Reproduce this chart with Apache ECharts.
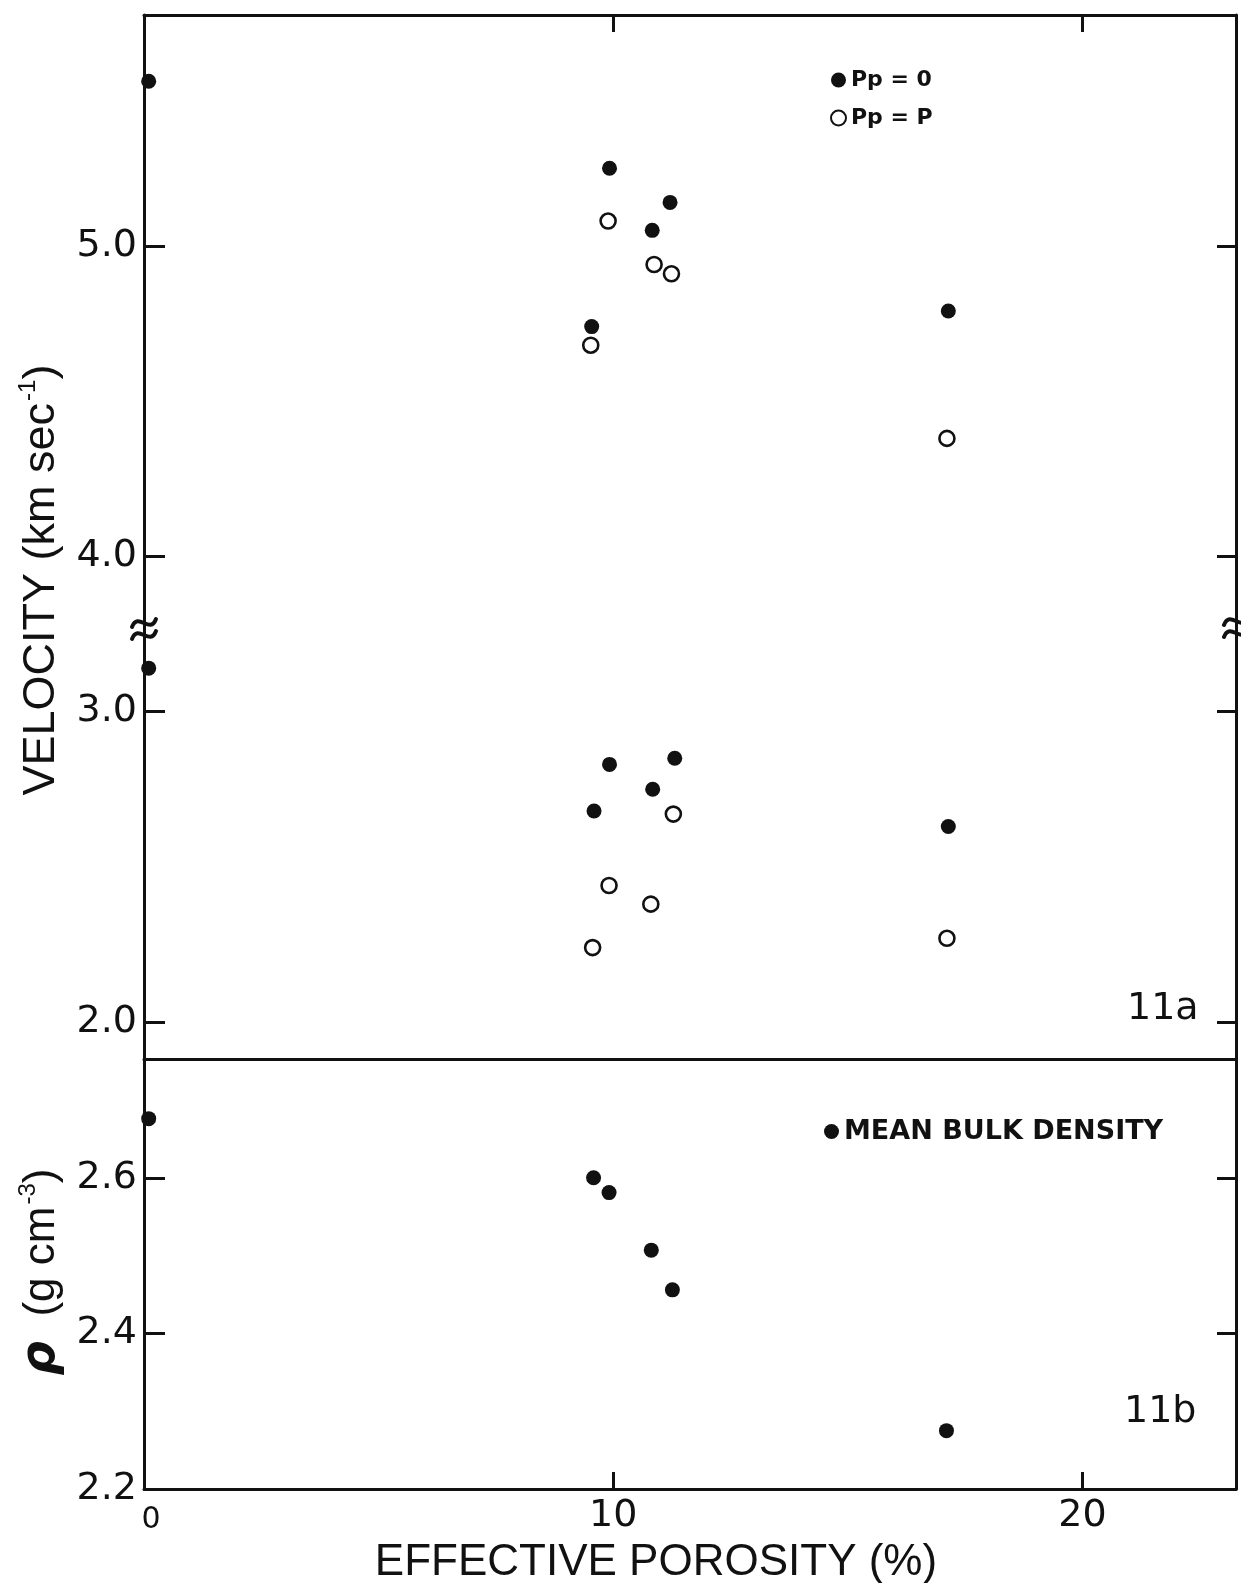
<!DOCTYPE html>
<html><head><meta charset="utf-8">
<script src="https://cdn.jsdelivr.net/npm/echarts@6/dist/echarts.min.js"></script>
<style>html,body{margin:0;padding:0;background:#fff}#c{width:1241px;height:1583px}</style>
</head><body><div id="c"></div>
<script>
// ---------------- data ----------------
const seriesNames = ['Pp = 0', 'Pp = P'];
const rhoName = 'MEAN BULK DENSITY';
// compressional velocity (upper part of 11a)
const vpDryX = [0.1, 9.54, 9.92, 10.83, 11.21, 17.14];
const vpDryY = [5.53, 4.74, 5.25, 5.05, 5.14, 4.79];
const vpSatX = [9.52, 9.89, 10.87, 11.24, 17.11];
const vpSatY = [4.68, 5.08, 4.94, 4.91, 4.38];
// shear velocity (lower part of 11a)
const vsDryX = [0.1, 9.59, 9.92, 10.84, 11.31, 17.14];
const vsDryY = [3.14, 2.68, 2.83, 2.75, 2.85, 2.63];
const vsSatX = [9.56, 9.91, 10.80, 11.28, 17.11];
const vsSatY = [2.24, 2.44, 2.38, 2.67, 2.27];
// mean bulk density (11b)
const rhoX = [0.1, 9.58, 9.91, 10.81, 11.26, 17.10];
const rhoY = [2.676, 2.600, 2.581, 2.507, 2.456, 2.275];
// ticks
const xTickLabels = [0, 10, 20];
const xTickMarks = [10, 20];
const vUpperTicks = [4, 5];
const vLowerTicks = [2, 3];
const rhoTickLabels = [2.2, 2.4, 2.6];
const rhoTickMarks = [2.4, 2.6];

// ---------------- layout ----------------
const L = 144, R = 1236, T = 15, BRK = 634, DIV = 1059, BOT = 1489, W = 1241;
const INK = '#111111';
const NUMFONT = 'DejaVu Sans';
const TXTFONT = 'Liberation Sans';

function pairs(xs, ys) { return xs.map((x, i) => [x, ys[i]]); }

const lineStyle = { color: INK, width: 3 };
function yAx(grid, pos, min, max, ticks, labels) {
  return {
    type: 'value', gridIndex: grid, position: pos, min: min, max: max,
    axisLine: { show: true, onZero: false, lineStyle: lineStyle },
    axisTick: { show: true, inside: true, length: pos === 'left' ? 21 : 19, customValues: ticks, lineStyle: { color: INK, width: 3 } },
    axisLabel: labels ? { show: true, customValues: labels, margin: 7, color: INK, fontFamily: NUMFONT, fontSize: 38,
      formatter: v => Number(v).toFixed(1) } : { show: false },
    splitLine: { show: false }
  };
}
const xMax = 23.27;
function xAx(grid, pos, ticks, labels) {
  return {
    type: 'value', gridIndex: grid, position: pos, min: 0, max: xMax,
    axisLine: { show: true, onZero: false, lineStyle: lineStyle },
    axisTick: ticks ? { show: true, inside: true, length: 17, customValues: ticks, lineStyle: { color: INK, width: 3 } } : { show: false },
    axisLabel: labels ? { show: true, customValues: labels, margin: 8, color: INK,
      formatter: v => v === 0 ? '{z|0}' : '{n|' + v + '}',
      rich: { z: { fontFamily: NUMFONT, fontSize: 30, padding: [8, 0, 0, 14], color: INK },
              n: { fontFamily: NUMFONT, fontSize: 38, color: INK } } } : { show: false },
    splitLine: { show: false }
  };
}

const dotFilled = { color: INK, opacity: 1 };
const dotOpen = { color: '#ffffff', borderColor: INK, borderWidth: 2.6, opacity: 1 };

function breakMark(x, y) {
  const els = [];
  [-6, 6].forEach(dy => {
    els.push({ type: 'bezierCurve', z: 100,
      shape: { x1: x - 12, y1: y + dy + 4, cpx1: x - 6, cpy1: y + dy - 12, cpx2: x + 6, cpy2: y + dy + 12, x2: x + 12, y2: y + dy - 4 },
      style: { stroke: INK, lineWidth: 4, fill: null, lineCap: 'round' } });
  });
  return els;
}

const option = {
  backgroundColor: '#ffffff',
  animation: false,
  grid: [
    { left: L, right: W - R, top: T, height: BRK - T },
    { left: L, right: W - R, top: BRK, height: DIV - BRK },
    { left: L, right: W - R, top: DIV, height: BOT - DIV }
  ],
  xAxis: [
    xAx(0, 'top', xTickMarks, null),
    xAx(1, 'bottom', null, null),
    xAx(2, 'bottom', xTickMarks, xTickLabels)
  ],
  yAxis: [
    yAx(0, 'left', 3.75, 5.7435, vUpperTicks, vUpperTicks),
    yAx(0, 'right', 3.75, 5.7435, vUpperTicks, null),
    yAx(1, 'left', 1.8812, 3.25, vLowerTicks, vLowerTicks),
    yAx(1, 'right', 1.8812, 3.25, vLowerTicks, null),
    yAx(2, 'left', 2.2, 2.7527, rhoTickMarks, rhoTickLabels),
    yAx(2, 'right', 2.2, 2.7527, rhoTickMarks, null)
  ],
  legend: [
    { data: seriesNames, orient: 'vertical', left: 825, top: 64, itemGap: 16, itemWidth: 15, itemHeight: 15,
      icon: 'circle', textStyle: { fontFamily: NUMFONT, fontWeight: 'bold', fontSize: 22, color: INK } },
    { data: [rhoName], left: 819, top: 1113, itemWidth: 15, itemHeight: 15, icon: 'circle',
      textStyle: { fontFamily: NUMFONT, fontWeight: 'bold', fontSize: 27, color: INK } }
  ],
  series: [
    { name: seriesNames[0], type: 'scatter', xAxisIndex: 0, yAxisIndex: 0, data: pairs(vpDryX, vpDryY), symbolSize: 15, itemStyle: dotFilled, clip: true },
    { name: seriesNames[1], type: 'scatter', xAxisIndex: 0, yAxisIndex: 0, data: pairs(vpSatX, vpSatY), symbolSize: 15, itemStyle: dotOpen, clip: true },
    { name: seriesNames[0], type: 'scatter', xAxisIndex: 1, yAxisIndex: 2, data: pairs(vsDryX, vsDryY), symbolSize: 15, itemStyle: dotFilled, clip: true },
    { name: seriesNames[1], type: 'scatter', xAxisIndex: 1, yAxisIndex: 2, data: pairs(vsSatX, vsSatY), symbolSize: 15, itemStyle: dotOpen, clip: true },
    { name: rhoName, type: 'scatter', xAxisIndex: 2, yAxisIndex: 4, data: pairs(rhoX, rhoY), symbolSize: 15, itemStyle: dotFilled, clip: true }
  ],
  graphic: [
    ...breakMark(L, BRK - 5),
    ...breakMark(R, BRK - 7),
    { type: 'text', left: 1127, top: 990, style: { text: '11a', font: '38px "DejaVu Sans"', fill: INK } },
    { type: 'text', left: 1124, top: 1393, style: { text: '11b', font: '38px "DejaVu Sans"', fill: INK } },
    { type: 'text', x: 656, y: 1563, style: { text: 'EFFECTIVE POROSITY (%)', font: '44px "Liberation Sans"', fill: INK, align: 'center', verticalAlign: 'middle' } },
    { type: 'text', x: 42, y: 580, rotation: Math.PI / 2,
      style: { text: '{a|VELOCITY (km sec}{s|-1}{a|)}', align: 'center', verticalAlign: 'middle',
        rich: { a: { fontFamily: TXTFONT, fontSize: 45, fill: INK, color: INK },
                s: { fontFamily: TXTFONT, fontSize: 24, padding: [0, 0, 28, 2], fill: INK, color: INK } } } },
    { type: 'text', x: 42, y: 1272, rotation: Math.PI / 2,
      style: { text: '{r|ρ}{a|  (g cm}{s|-3}{a|)}', align: 'center', verticalAlign: 'middle',
        rich: { r: { fontFamily: 'DejaVu Sans', fontStyle: 'italic', fontWeight: 'bold', fontSize: 48, fill: INK, color: INK },
                a: { fontFamily: TXTFONT, fontSize: 44, fill: INK, color: INK },
                s: { fontFamily: TXTFONT, fontSize: 24, padding: [0, 0, 28, 2], fill: INK, color: INK } } } }
  ]
};

const chart = echarts.init(document.getElementById('c'), null, { renderer: 'canvas' });
chart.setOption(option);
</script>
</body></html>
